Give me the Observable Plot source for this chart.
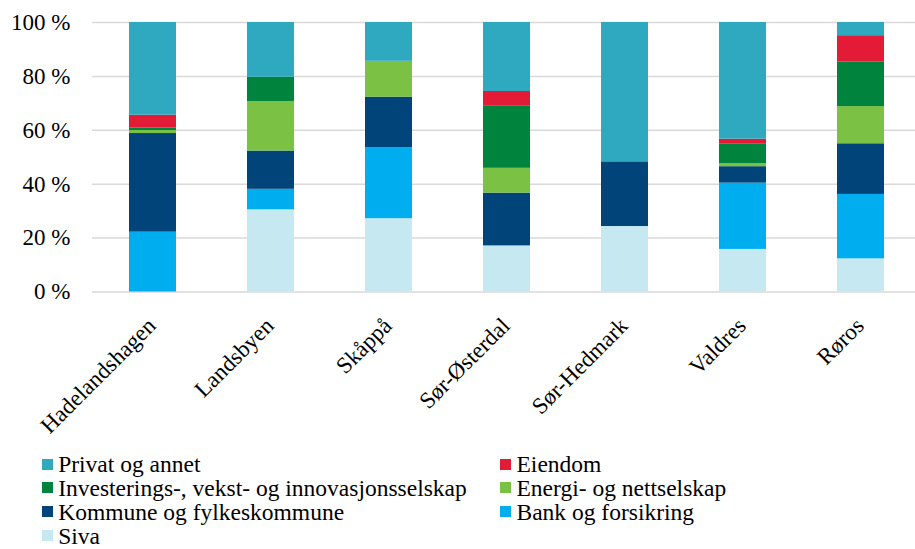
<!DOCTYPE html>
<html><head><meta charset="utf-8">
<script src="https://cdn.jsdelivr.net/npm/d3@7"></script>
<script src="https://cdn.jsdelivr.net/npm/@observablehq/plot@0.6"></script>
<style>
body{margin:0;background:#fff;font-family:"Times New Roman","Liberation Serif","DejaVu Serif",serif;}
#wrap{position:relative;width:915px;height:549px;overflow:hidden;}
#wrap svg{display:block;}
.item{position:absolute;height:20px;line-height:20px;font-size:23.5px;color:#000;white-space:nowrap;font-family:"Times New Roman","Liberation Serif","DejaVu Serif",serif;}
.sw{position:absolute;left:0;top:4.5px;width:11px;height:11px;}
.tx{position:absolute;left:16.5px;top:0;}
</style></head><body><div id="wrap"></div>
<script>
const regions = ["Hadelandshagen","Landsbyen","Skåppå","Sør-Østerdal","Sør-Hedmark","Valdres","Røros"];
const series = ["Siva","Bank og forsikring","Kommune og fylkeskommune","Energi- og nettselskap","Investerings-, vekst- og innovasjonsselskap","Eiendom","Privat og annet"];
const colors = ["#c6e9f1","#00aeef","#00447a","#7bc143","#00843d","#e31b37","#2ea9c0"];
const siva     = [0,   30.5, 27.2, 17.1, 24.3, 15.8, 12.3];
const bank     = [22.2, 7.6, 26.3,  0,    0,   24.6, 23.9];
const kommune  = [36.6, 14.2, 18.8, 19.6, 24.0, 6.1, 18.8];
const energi   = [1.1, 18.4, 13.3,  9.2,  0,    1.1, 13.8];
const invest   = [1.0,  9.0,  0,   23.0,  0,    7.4, 16.6];
const eiendom  = [4.7,  0,    0,    5.5,  0,    1.7,  9.7];
const privat   = [34.4, 20.3, 14.4, 25.6, 51.7, 43.3, 4.9];
const yTicks = [0,20,40,60,80,100];
const legendOrder = ["Privat og annet","Eiendom","Investerings-, vekst- og innovasjonsselskap","Energi- og nettselskap","Kommune og fylkeskommune","Bank og forsikring","Siva"];

const cols = [siva,bank,kommune,energi,invest,eiendom,privat];
const data = [];
series.forEach((s,i)=>regions.forEach((r,j)=>data.push({region:r,series:s,value:cols[i][j]})));
const FONT = '"Times New Roman","Liberation Serif","DejaVu Serif",serif';

const plot = Plot.plot({
  width:915, height:449,
  marginLeft:92, marginRight:0, marginTop:22, marginBottom:157.5,
  style:{fontFamily:FONT,fontSize:"23px",color:"#000",background:"#fff"},
  x:{domain:regions, range:[90,922.5], paddingInner:0.6, paddingOuter:0.3, label:null},
  y:{domain:[0,100], label:null},
  color:{domain:series, range:colors},
  marks:[
    Plot.ruleY(yTicks,{stroke:"#d9d9d9",strokeWidth:1.5}),
    Plot.barY(data,{x:"region",y:"value",fill:"series",order:series}),
    Plot.axisY({ticks:yTicks,tickSize:0,tickPadding:22,tickFormat:d=>d+" %",fontSize:23,fontFamily:FONT,label:null}),
    Plot.axisX({tickSize:0,tickRotate:-45,tickPadding:30,dx:-1,fontSize:23,fontFamily:FONT,label:null})
  ]
});
const wrap = document.getElementById("wrap");
wrap.appendChild(plot);

legendOrder.forEach((s,i)=>{
  const it=document.createElement("div");it.className="item";
  it.style.left=(i%2===0?41.7:500)+"px";
  it.style.top=(454.1+Math.floor(i/2)*23.8)+"px";
  const sw=document.createElement("span");sw.className="sw";sw.style.background=colors[series.indexOf(s)];
  const tx=document.createElement("span");tx.className="tx";tx.textContent=s;
  it.appendChild(sw);it.appendChild(tx);wrap.appendChild(it);
});
</script></body></html>
